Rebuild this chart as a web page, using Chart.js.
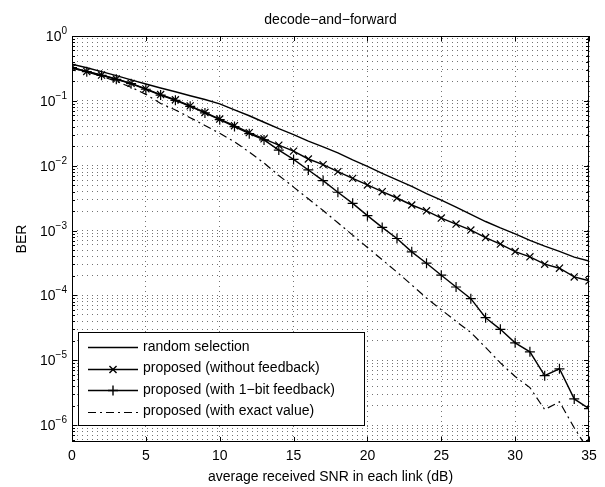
<!DOCTYPE html>
<html><head><meta charset="utf-8">
<script src="https://cdn.jsdelivr.net/npm/chart.js@4.4.0/dist/chart.umd.min.js"></script>
<style>html,body{margin:0;padding:0;background:#fff}</style>
</head><body>
<canvas id="c" width="605" height="487"></canvas>
<script>
const snr = [0,1,2,3,4,5,6,7,8,9,10,11,12,13,14,15,16,17,18,19,20,21,22,23,24,25,26,27,28,29,30,31,32,33,34,35];
const randomSelection = [0.368,0.324,0.282,0.245,0.211,0.182,0.158,0.138,0.120,0.105,0.0899,0.0724,0.0589,0.0468,0.0372,0.0302,0.0240,0.0195,0.0158,0.0123,0.00977,0.00759,0.00603,0.00479,0.00372,0.00295,0.00229,0.00178,0.00138,0.00110,0.000891,0.000708,0.000575,0.000479,0.000389,0.000339];
const withoutFeedback = [0.327,0.284,0.250,0.217,0.186,0.153,0.125,0.104,0.0838,0.0663,0.0524,0.0414,0.0324,0.0260,0.0207,0.0168,0.0127,0.0104,0.0081,0.00638,0.00505,0.00398,0.00318,0.00248,0.00202,0.00156,0.00126,0.00102,0.00078,0.00062,0.000475,0.000394,0.000303,0.000263,0.000193,0.000168];
const oneBitFeedback = [0.325,0.282,0.248,0.215,0.184,0.151,0.123,0.102,0.0825,0.0652,0.0512,0.0402,0.0312,0.0250,0.0174,0.0125,0.0086,0.0059,0.0039,0.00263,0.0017,0.00112,0.000755,0.00047,0.000314,0.000205,0.000135,0.0000891,0.0000454,0.000030,0.0000186,0.0000135,0.0000058,0.0000074,0.00000254,0.0000018];
const exactValue = [0.320,0.279,0.240,0.200,0.162,0.126,0.0912,0.0724,0.0550,0.0417,0.0316,0.0234,0.0162,0.0110,0.00708,0.00468,0.00309,0.00204,0.00132,0.000851,0.000550,0.000355,0.000229,0.000145,0.0000912,0.0000603,0.0000398,0.0000269,0.0000158,0.00000912,0.00000562,0.0000038,0.00000174,0.00000229,0.000000912,0.000000398];
const seriesNames = ['random selection','proposed (without feedback)','proposed (with 1\u2212bit feedback)','proposed (with exact value)'];
const xTicks = [0,5,10,15,20,25,30,35];
const yDecades = [0,-1,-2,-3,-4,-5,-6];
const titleText = 'decode\u2212and\u2212forward';
const xTitle = 'average received SNR in each link (dB)';
const yTitle = 'BER';

const FONT = '"Liberation Sans", Arial, Helvetica, sans-serif';
const toXY = arr => arr.map((v,i)=>({x:snr[i], y:v}));

const yTickValues = [];
for (let e=-7; e<=0; e++) for (let m=1; m<=9; m++) {
  const v = m*Math.pow(10,e);
  if (v >= 5.5e-7 - 1e-12 && v <= 1.0000001) yTickValues.push(v);
}

const decorPlugin = {
  id:'decor',
  afterDraw(chart){
    const ctx = chart.ctx, a = chart.chartArea;
    const xs = chart.scales.x, ys = chart.scales.y;
    ctx.save();
    ctx.strokeStyle = '#000'; ctx.lineWidth = 1;
    ctx.strokeRect(Math.round(a.left)+0.5, Math.round(a.top)+0.5, Math.round(a.right-a.left)-1, Math.round(a.bottom-a.top)-1);
    ctx.beginPath();
    xTicks.forEach(t=>{
      const px = Math.round(xs.getPixelForValue(t))+0.5;
      ctx.moveTo(px,a.bottom); ctx.lineTo(px,a.bottom-5);
      ctx.moveTo(px,a.top); ctx.lineTo(px,a.top+5);
    });
    yTickValues.forEach(v=>{
      const py = Math.round(ys.getPixelForValue(v))+0.5;
      const dec = Math.abs(Math.log10(v) - Math.round(Math.log10(v))) < 1e-9;
      const L = dec ? 5 : 3;
      ctx.moveTo(a.left,py); ctx.lineTo(a.left+L,py);
      ctx.moveTo(a.right,py); ctx.lineTo(a.right-L,py);
    });
    ctx.stroke();
    ctx.fillStyle = '#000';
    yDecades.forEach(k=>{
      const py = ys.getPixelForValue(Math.pow(10,k));
      const exp = k===0 ? '0' : '\u2212'+(-k);
      ctx.font = '10px '+FONT;
      const ew = ctx.measureText(exp).width;
      ctx.textAlign = 'left'; ctx.textBaseline = 'alphabetic';
      const right = 67;
      ctx.fillText(exp, right-ew, py-2);
      ctx.font = '14px '+FONT;
      ctx.textAlign = 'right';
      ctx.fillText('10', right-ew, py+5);
    });
    ctx.font = '14px '+FONT; ctx.textAlign='center'; ctx.textBaseline='alphabetic';
    const cx = (a.left+a.right)/2;
    ctx.fillText(titleText, cx, 24);
    ctx.textBaseline='middle';
    ctx.fillText(xTitle, cx, 477);
    ctx.save(); ctx.translate(22,(a.top+a.bottom)/2); ctx.rotate(-Math.PI/2);
    ctx.fillText(yTitle,0,0); ctx.restore();
    const lx=78, ly=332, lw=286, lh=93;
    ctx.fillStyle='#fff'; ctx.fillRect(lx,ly,lw,lh);
    ctx.strokeStyle='#000'; ctx.lineWidth=1;
    ctx.strokeRect(lx+0.5,ly+0.5,lw,lh);
    const rows=[347,368.5,390,411.5];
    chart.data.datasets.forEach((ds,i)=>{
      const y = Math.round(rows[i])+0.5;
      ctx.save();
      ctx.strokeStyle='#000'; ctx.lineWidth=ds.borderWidth;
      ctx.setLineDash(ds.borderDash||[]);
      ctx.beginPath(); ctx.moveTo(88,y); ctx.lineTo(138,y); ctx.stroke();
      ctx.setLineDash([]);
      if (ds.pointStyle && ds.pointRadius>0) {
        Chart.helpers.drawPoint(ctx,{pointStyle:ds.pointStyle,radius:ds.pointRadius,borderWidth:1,rotation:0},113,y);
      }
      ctx.restore();
      ctx.fillStyle='#000'; ctx.font='14px '+FONT; ctx.textAlign='left'; ctx.textBaseline='middle';
      ctx.fillText(seriesNames[i],143,rows[i]);
    });
    ctx.restore();
  }
};

new Chart(document.getElementById('c'), {
  type:'line',
  data:{datasets:[
    {label:seriesNames[0], data:toXY(randomSelection), borderColor:'#000', borderWidth:1.4, pointRadius:0, pointStyle:false, tension:0},
    {label:seriesNames[1], data:toXY(withoutFeedback), borderColor:'#000', borderWidth:1.4, pointStyle:'crossRot', pointRadius:5, pointBorderWidth:1.2, pointBorderColor:'#000', tension:0},
    {label:seriesNames[2], data:toXY(oneBitFeedback), borderColor:'#000', borderWidth:1.4, pointStyle:'cross', pointRadius:5, pointBorderWidth:1.2, pointBorderColor:'#000', tension:0},
    {label:seriesNames[3], data:toXY(exactValue), borderColor:'#000', borderWidth:1.2, borderDash:[8,4,2,4], pointRadius:0, pointStyle:false, tension:0}
  ]},
  options:{
    responsive:false, animation:false, devicePixelRatio:1,
    layout:{padding:{top:36,right:16,left:0,bottom:0}},
    plugins:{legend:{display:false}, tooltip:{enabled:false}, title:{display:false}},
    elements:{line:{fill:false}},
    scales:{
      x:{type:'linear', min:0, max:35,
        afterBuildTicks(s){ s.ticks = xTicks.map(v=>({value:v})); },
        afterFit(s){ s.height = 45; },
        ticks:{font:{family:FONT,size:14}, color:'#000', padding:6, autoSkip:false, maxRotation:0},
        grid:{color:'rgba(0,0,0,0.55)', lineWidth:1, drawTicks:false},
        border:{display:false, dash:[1,4]}
      },
      y:{type:'logarithmic', min:5.5e-7, max:1,
        afterBuildTicks(s){ s.ticks = yTickValues.map(v=>({value:v})); },
        afterFit(s){ s.width = 72; },
        ticks:{display:false, autoSkip:false},
        grid:{color:'rgba(0,0,0,0.55)', lineWidth:1, drawTicks:false},
        border:{display:false, dash:[1,4]}
      }
    }
  },
  plugins:[decorPlugin]
});
</script>
</body></html>
